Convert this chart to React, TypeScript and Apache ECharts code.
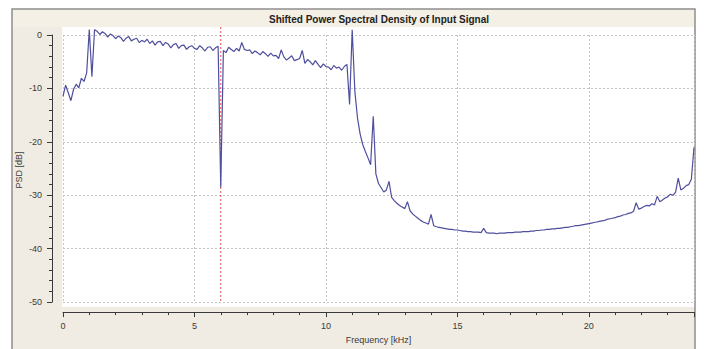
import React, { useEffect, useRef } from "react";
import * as echarts from "echarts";

// Sampling grid of the shifted PSD (kHz)
const freqStartKHz = 0;
const freqStepKHz = 0.1;

// PSD values in dB, one per 0.1 kHz bin from 0.0 to 24.0 kHz
const psdDb: number[] = [
  // 0.0 - 0.9
  -11.5, -9.4, -10.8, -12.3, -10.2, -9.2, -9.9, -8.1, -8.7, -7.1,
  // 1.0 - 1.9
  1.0, -7.8, 1.0, 0.7, 0.1, 0.6, 0.3, -0.4, 0.2, -0.1,
  // 2.0 - 2.9
  -0.7, -0.2, -0.5, -1.2, -0.6, -0.3, -1.1, -0.8, -0.6, -1.4,
  // 3.0 - 3.9
  -1.0, -1.3, -0.8, -1.6, -1.1, -1.9, -1.3, -1.2, -2.0, -1.4,
  // 4.0 - 4.9
  -1.7, -2.4, -1.8, -1.6, -2.5, -2.0, -1.9, -2.7, -2.2, -2.0,
  // 5.0 - 5.9
  -2.5, -2.7, -2.0, -2.4, -3.0, -2.3, -2.2, -2.9, -2.4, -2.1,
  // 6.0 - 6.9
  -28.5, -2.9, -3.3, -2.3, -2.7, -3.1, -2.5, -3.0, -1.4, -2.7,
  // 7.0 - 7.9
  -2.9, -2.8, -3.5, -3.0, -3.3, -3.7, -3.1, -3.5, -4.0, -3.4,
  // 8.0 - 8.9
  -3.9, -3.8, -4.4, -2.8, -4.1, -4.7, -4.3, -3.9, -4.8, -4.6,
  // 9.0 - 9.9
  -4.4, -2.9, -5.3, -4.6, -5.0, -5.6, -4.8, -5.5, -6.1, -5.4,
  // 10.0 - 10.9
  -5.9, -6.0, -6.5, -5.7, -6.2, -6.0, -6.6, -5.9, -5.5, -13.0,
  // 11.0 - 11.9
  1.0, -10.5, -15.5, -18.5, -20.5, -21.8, -23.0, -24.3, -15.2, -26.0,
  // 12.0 - 12.9
  -27.8, -28.6, -29.4, -29.0, -27.4, -30.4, -31.0, -31.5, -31.9, -32.2,
  // 13.0 - 13.9
  -32.5, -31.2, -32.9, -33.5, -33.9, -34.3, -34.7, -35.0, -35.2, -35.4,
  // 14.0 - 14.9
  -33.6, -35.7, -35.9, -36.0, -36.1, -36.2, -36.3, -36.4, -36.4, -36.5,
  // 15.0 - 15.9
  -36.5, -36.6, -36.7, -36.7, -36.8, -36.8, -36.9, -36.9, -36.9, -37.0,
  // 16.0 - 16.9
  -36.2, -37.0, -37.1, -37.1, -37.1, -37.2, -37.1, -37.1, -37.1, -37.0,
  // 17.0 - 17.9
  -37.0, -37.0, -36.9, -36.9, -36.9, -36.8, -36.8, -36.8, -36.7, -36.7,
  // 18.0 - 18.9
  -36.6, -36.6, -36.5, -36.5, -36.4, -36.4, -36.3, -36.3, -36.2, -36.2,
  // 19.0 - 19.9
  -36.1, -36.0, -36.0, -35.9, -35.8, -35.7, -35.7, -35.6, -35.5, -35.4,
  // 20.0 - 20.9
  -35.3, -35.2, -35.1, -35.0, -34.9, -34.8, -34.7, -34.5, -34.4, -34.3,
  // 21.0 - 21.9
  -34.2, -34.0, -33.9, -33.7, -33.6, -33.4, -33.3, -33.0, -31.4, -32.6,
  // 22.0 - 22.9
  -32.4, -32.1, -31.9, -32.0, -31.6, -31.8, -30.2, -31.2, -30.9, -30.5,
  // 23.0 - 23.9
  -30.3, -29.8, -30.0, -29.4, -26.8, -29.0, -28.7, -28.2, -28.0, -27.0,
  // 24.0
  -21.0,
];

// Red dotted marker (kHz) and its vertical extent (dB)
const markerFreqKHz = 6;
const markerSpanDb = [1.5, -50];

// Axes
const xRange = [0, 24];
const xInterval = 5;
const yRange = [-50, 0];
const yInterval = 10;

const titleText = "Shifted Power Spectral Density of Input Signal";
const xName = "Frequency [kHz]";
const yName = "PSD [dB]";

export default function App() {
  const ref = useRef<HTMLDivElement>(null);

  useEffect(() => {
    if (!ref.current) return;
    const chart = echarts.init(ref.current, undefined, { renderer: "svg" });

    const lineData = psdDb.map((v, i) => [
      +(freqStartKHz + i * freqStepKHz).toFixed(2),
      v,
    ]);
    const markerData = markerSpanDb.map((v) => [markerFreqKHz, v]);

    const axisColor = "#3a3a3a";
    const font = "'Liberation Sans', Arial, sans-serif";

    chart.setOption({
      animation: false,
      backgroundColor: "#ffffff",
      graphic: [
        {
          type: "rect",
          z: -10,
          silent: true,
          shape: { x: 12, y: 9, width: 683, height: 360 },
          style: { fill: "#f0ece3", stroke: "#8e8e8e", lineWidth: 1.5 },
        },
        {
          type: "rect",
          z: -9,
          silent: true,
          shape: { x: 13, y: 10, width: 681, height: 17 },
          style: { fill: "#f4f0e5" },
        },
        {
          type: "rect",
          z: -8,
          silent: true,
          shape: { x: 62, y: 27, width: 632, height: 280 },
          style: { fill: "#ffffff" },
        },
        {
          type: "text",
          z: 5,
          x: 379,
          y: 19,
          style: {
            text: titleText,
            align: "center",
            verticalAlign: "middle",
            font: `bold 10px ${font}`,
            fill: "#222222",
          },
        },
        {
          type: "text",
          z: 5,
          x: 19,
          y: 170,
          rotation: Math.PI / 2,
          style: {
            text: yName,
            align: "center",
            verticalAlign: "middle",
            font: `9px ${font}`,
            fill: axisColor,
          },
        },
      ],
      grid: { left: 63, top: 35, width: 631, height: 270, show: false },
      xAxis: {
        type: "value",
        min: xRange[0],
        max: xRange[1],
        interval: xInterval,
        offset: 10,
        name: xName,
        nameLocation: "middle",
        nameGap: 22,
        nameTextStyle: { color: axisColor, fontSize: 9, fontFamily: font },
        axisLine: { show: true, onZero: false, lineStyle: { color: axisColor, width: 1 } },
        axisTick: { show: true, length: 5, lineStyle: { color: axisColor } },
        minorTick: { show: true, splitNumber: 5, length: 3, lineStyle: { color: axisColor } },
        axisLabel: {
          color: axisColor,
          fontSize: 9,
          fontFamily: font,
          margin: 9,
          showMaxLabel: false,
        },
        splitLine: {
          show: true,
          lineStyle: { color: "#c4c4c4", type: [2, 2], width: 1 },
        },
      },
      yAxis: {
        type: "value",
        min: yRange[0],
        max: yRange[1],
        interval: yInterval,
        offset: 11,
        axisLine: { show: true, onZero: false, lineStyle: { color: axisColor, width: 1 } },
        axisTick: { show: true, length: 5, lineStyle: { color: axisColor } },
        minorTick: { show: true, splitNumber: 5, length: 3, lineStyle: { color: axisColor } },
        axisLabel: { color: axisColor, fontSize: 9, fontFamily: font, margin: 10 },
        splitLine: {
          show: true,
          lineStyle: { color: "#c4c4c4", type: [2, 2], width: 1 },
        },
      },
      series: [
        {
          type: "line",
          data: markerData,
          symbol: "none",
          clip: false,
          z: 1,
          lineStyle: { color: "#d85050", type: [2, 2], width: 1 },
        },
        {
          type: "line",
          data: lineData,
          symbol: "none",
          clip: false,
          z: 2,
          lineStyle: { color: "#4f4f9e", width: 1.2 },
        },
      ],
    });

    return () => chart.dispose();
  }, []);

  return (
    <div
      ref={ref}
      style={{ position: "absolute", left: 0, top: 0, width: 704, height: 349 }}
    />
  );
}
